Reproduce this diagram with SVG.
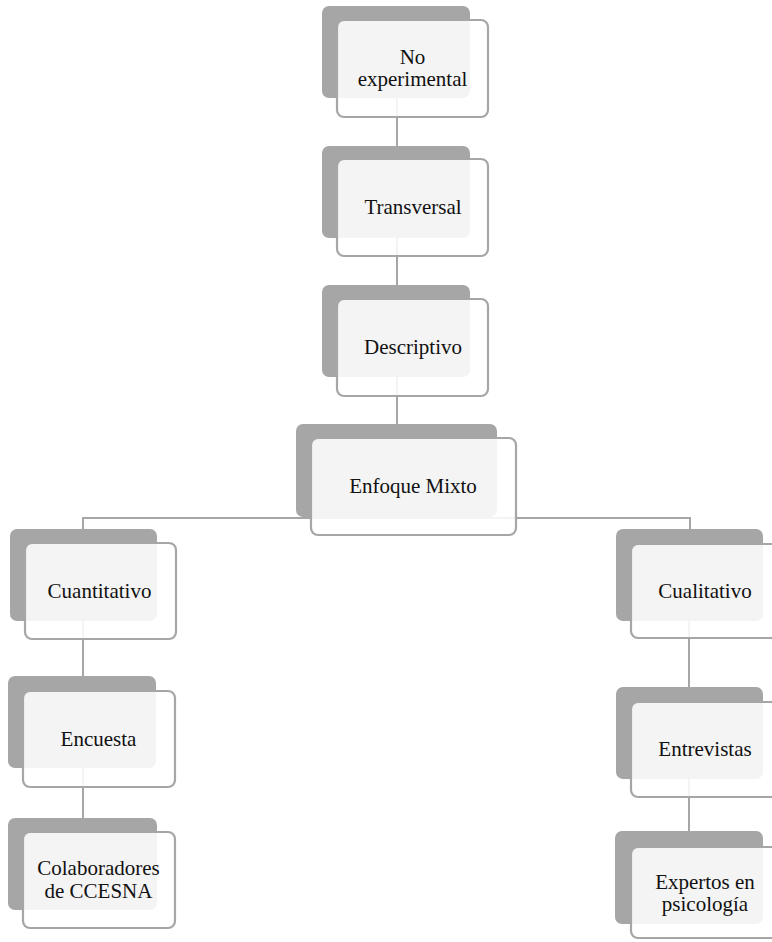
<svg xmlns="http://www.w3.org/2000/svg" width="772" height="942" viewBox="0 0 772 942">
<style>
.back{fill:#a6a6a6}
.front{fill:#ffffff;fill-opacity:0.88;stroke:#a6a6a6;stroke-width:2.2}
.conn{stroke:#a6a6a6;stroke-width:2;fill:none}
text{font-family:"Liberation Serif","Times New Roman",serif;font-size:21px;fill:#111;text-anchor:middle}
</style>
<rect width="772" height="942" fill="#ffffff"/>
<g id="connectors">
<path class="conn" d="M397,98 V146"/>
<path class="conn" d="M397,238 V285"/>
<path class="conn" d="M397,377 V424"/>
<path class="conn" d="M397,517 V518 H83 V529"/>
<path class="conn" d="M397,517 V518 H690 V529"/>
<path class="conn" d="M83,621 V676"/>
<path class="conn" d="M83,768 V818"/>
<path class="conn" d="M689,621 V687"/>
<path class="conn" d="M689,779 V831"/>
</g>
<g id="n1">
<rect class="back" x="322" y="6" width="148" height="92" rx="7"/>
<rect class="front" x="337" y="20" width="151" height="97" rx="7"/>
<text x="412.5" y="64">No<tspan x="412.5" dy="22">experimental</tspan></text>
</g>
<g id="n2">
<rect class="back" x="322" y="146" width="148" height="92" rx="7"/>
<rect class="front" x="337" y="159" width="151" height="97" rx="7"/>
<text x="413" y="214">Transversal</text>
</g>
<g id="n3">
<rect class="back" x="322" y="285" width="148" height="92" rx="7"/>
<rect class="front" x="337" y="299" width="151" height="97" rx="7"/>
<text x="413" y="354">Descriptivo</text>
</g>
<g id="n4">
<rect class="back" x="296" y="424" width="201" height="93" rx="7"/>
<rect class="front" x="311" y="438" width="205" height="97" rx="7"/>
<text x="413" y="493">Enfoque Mixto</text>
</g>
<g id="n5">
<rect class="back" x="10" y="529" width="147" height="92" rx="7"/>
<rect class="front" x="25" y="543" width="151" height="96" rx="7"/>
<text x="99.5" y="598">Cuantitativo</text>
</g>
<g id="n6">
<rect class="back" x="8" y="676" width="148" height="92" rx="7"/>
<rect class="front" x="23" y="691" width="152" height="96" rx="7"/>
<text x="98.5" y="745.5">Encuesta</text>
</g>
<g id="n7">
<rect class="back" x="8" y="818" width="149" height="92" rx="7"/>
<rect class="front" x="23" y="832" width="152" height="96" rx="7"/>
<text x="98.5" y="875">Colaboradores<tspan x="98.5" dy="22.5">de CCESNA</tspan></text>
</g>
<g id="n8">
<rect class="back" x="616" y="529" width="147" height="92" rx="7"/>
<rect class="front" x="631" y="544" width="150" height="94" rx="7"/>
<text x="705" y="598">Cualitativo</text>
</g>
<g id="n9">
<rect class="back" x="616" y="687" width="147" height="92" rx="7"/>
<rect class="front" x="631" y="702" width="150" height="95" rx="7"/>
<text x="705" y="756">Entrevistas</text>
</g>
<g id="n10">
<rect class="back" x="615" y="831" width="148" height="93" rx="7"/>
<rect class="front" x="631" y="847" width="150" height="91" rx="7"/>
<text x="705" y="889">Expertos en<tspan x="705" dy="22">psicología</tspan></text>
</g>
</svg>
